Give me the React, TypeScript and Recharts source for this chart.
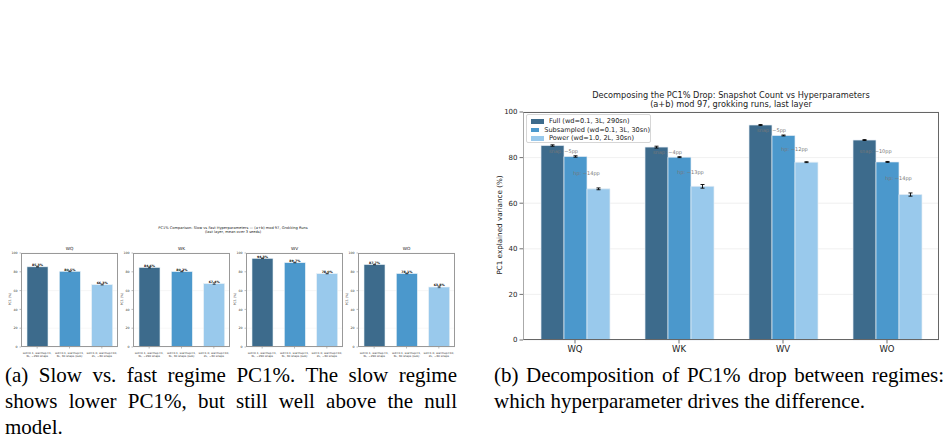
import React from 'react';
import {
  BarChart,
  Bar,
  XAxis,
  YAxis,
  CartesianGrid,
  ErrorBar,
  LabelList,
  ReferenceDot
} from 'recharts';

// weight matrices of the last layer
const components = ['WQ', 'WK', 'WV', 'WO'];

// PC1 explained variance (%) per regime, mean over 3 seeds
const fullPc1 = [85.3, 84.6, 94.3, 87.7];
const fullErr = [0.3, 0.4, 0.2, 0.2];
const subPc1 = [80.5, 80.2, 89.7, 78.1];
const subErr = [0.3, 0.2, 0.2, 0.2];
const powerPc1 = [66.3, 67.4, 78.0, 63.8];
const powerErr = [0.4, 0.8, 0.2, 0.7];

const seriesNames = [
  'Full (wd=0.1, 3L, 290sn)',
  'Subsampled (wd=0.1, 3L, 30sn)',
  'Power (wd=1.0, 2L, 30sn)'
];
const regimeLabels = [
  ['wd=0.1, warmup=1,', '3L, ~290 snaps'],
  ['wd=0.1, warmup=1,', '3L, 30 snaps (sub)'],
  ['wd=1.0, warmup=10,', '2L, ~30 snaps']
];
const yTicks = [0, 20, 40, 60, 80, 100];

const colors = ['#3d6b8c', '#4b98cc', '#99c9ec'];
const FONT = '"DejaVu Sans", sans-serif';

const seriesValues = [fullPc1, subPc1, powerPc1];
const seriesErrs = [fullErr, subErr, powerErr];

const groupedData = components.map((c, i) => ({
  name: c,
  full: fullPc1[i],
  fullErr: fullErr[i],
  sub: subPc1[i],
  subErr: subErr[i],
  power: powerPc1[i],
  powerErr: powerErr[i]
}));

// ---------- panel (a): one small chart per component ----------
const SMALL_LEFTS = [21, 133, 246, 358];

const RegimeTick = (props: any) => {
  const { x, y, payload } = props;
  const lines = regimeLabels[Number(payload.value)];
  return (
    <text x={x} y={y + 3} textAnchor="middle" fontSize={2.8} fill="#333" fontFamily={FONT}>
      <tspan x={x} dy={0}>{lines[0]}</tspan>
      <tspan x={x} dy={3.3}>{lines[1]}</tspan>
    </text>
  );
};

const SmallPanel = ({ idx }: { idx: number }) => {
  const data = [0, 1, 2].map((k) => ({
    name: String(k),
    value: seriesValues[k][idx],
    err: seriesErrs[k][idx]
  }));
  const left = SMALL_LEFTS[idx];
  return (
    <div style={{ position: 'absolute', left: left - 17, top: 240, width: 117, height: 120 }}>
      <BarChart width={117} height={120} data={data} margin={{ top: 13, right: 3, bottom: 3, left: 5 }}>
        <CartesianGrid horizontal vertical={false} stroke="#efefef" strokeWidth={0.5} />
        <XAxis
          dataKey="name"
          tick={<RegimeTick />}
          tickLine={{ stroke: '#555', strokeWidth: 0.4 }}
          tickSize={1.5}
          axisLine={false}
          height={10}
          interval={0}
        />
        <YAxis
          domain={[0, 100]}
          ticks={yTicks}
          width={12}
          tick={{ fontSize: 3.2, fill: '#333', fontFamily: FONT }}
          tickLine={{ stroke: '#555', strokeWidth: 0.4 }}
          tickSize={1.5}
          axisLine={false}
        />
        <Bar dataKey="value" barSize={21} isAnimationActive={false}
          shape={(p: any) => (
            <rect x={p.x} y={p.y} width={p.width} height={p.height} fill={colors[p.index]} stroke="#e8f0f6" strokeWidth={0.6} />
          )}
        >
          <ErrorBar dataKey="err" width={1.5} stroke="#000" strokeWidth={0.5} direction="y" />
          <LabelList
            dataKey="value"
            position="top"
            offset={0.8}
            formatter={(v: any) => `${Number(v).toFixed(1)}%`}
            style={{ fontSize: 3.2, fontWeight: 'bold', fill: '#000', fontFamily: FONT }}
          />
        </Bar>
      </BarChart>
      <div style={{ position: 'absolute', left: 17, top: 13, width: 97, height: 94, border: '0.6px solid #999', boxSizing: 'border-box', pointerEvents: 'none' }} />
      <div style={{ position: 'absolute', left: 17, top: 5.5, width: 97, textAlign: 'center', fontSize: 4.3, fontFamily: FONT, color: '#222', lineHeight: '5px' }}>
        {components[idx]}
      </div>
      <div style={{ position: 'absolute', left: -9, top: 57, width: 30, textAlign: 'center', fontSize: 3.2, fontFamily: FONT, color: '#333', transform: 'rotate(-90deg)', lineHeight: '4px' }}>
        PC1 (%)
      </div>
    </div>
  );
};

// ---------- panel (b): grouped bars ----------
const annotationText = (x: number, y: number, text: string) => (
  <text x={x} y={y} textAnchor="middle" dominantBaseline="central" fontSize={5} fill="#777" fontFamily={FONT}>
    {text}
  </text>
);

const DecompositionChart = () => (
  <div style={{ position: 'absolute', left: 490, top: 85, width: 460, height: 280 }}>
    <BarChart width={460} height={280} data={groupedData} barGap={0} margin={{ top: 27, right: 11, bottom: 10, left: 0 }}>
      <CartesianGrid horizontal vertical={false} stroke="#ececec" strokeWidth={0.8} />
      <XAxis
        dataKey="name"
        tick={{ fontSize: 8.5, fill: '#222', fontFamily: FONT }}
        tickLine={{ stroke: '#333', strokeWidth: 0.7 }}
        tickSize={3.5}
        axisLine={false}
        height={15}
      />
      <YAxis
        domain={[0, 100]}
        ticks={yTicks}
        width={33}
        tick={{ fontSize: 7, fill: '#222', fontFamily: FONT }}
        tickLine={{ stroke: '#333', strokeWidth: 0.7 }}
        tickSize={3.5}
        axisLine={false}
      />
      {(['full', 'sub', 'power'] as const).map((key, k) => (
        <Bar key={key} dataKey={key} barSize={23} fill={colors[k]} stroke="#e6eef5" strokeWidth={0.7} isAnimationActive={false}>
          <ErrorBar dataKey={key + 'Err'} width={2} stroke="#000" strokeWidth={0.9} direction="y" />
        </Bar>
      ))}
      {components.map((c, i) => (
        <ReferenceDot
          key={'snap-' + c}
          x={c}
          y={(fullPc1[i] + subPc1[i]) / 2}
          r={0}
          ifOverflow="visible"
          shape={(p: any) => annotationText(p.cx - 11.5, p.cy, `snap: \u2212${Math.round(fullPc1[i] - subPc1[i])}pp`)}
        />
      ))}
      {components.map((c, i) => (
        <ReferenceDot
          key={'hp-' + c}
          x={c}
          y={(subPc1[i] + powerPc1[i]) / 2}
          r={0}
          ifOverflow="visible"
          shape={(p: any) => annotationText(p.cx + 11.5, p.cy, `hp: \u2212${Math.round(subPc1[i] - powerPc1[i])}pp`)}
        />
      ))}
    </BarChart>
    {/* axes frame */}
    <div style={{ position: 'absolute', left: 33, top: 27, width: 416, height: 228, border: '1px solid #666', borderLeftColor: '#aaa', boxSizing: 'border-box', pointerEvents: 'none' }} />
    {/* legend */}
    <div style={{ position: 'absolute', left: 36, top: 29, width: 125, height: 29, border: '0.8px solid #d6d6d6', borderRadius: 2, background: 'rgba(255,255,255,0.85)', boxSizing: 'border-box', padding: '2px 0 0 4px', fontFamily: FONT, fontSize: 6.6, color: '#222' }}>
      {seriesNames.map((n, k) => (
        <div key={n} style={{ display: 'flex', alignItems: 'center', height: 8.5, whiteSpace: 'nowrap' }}>
          <span style={{ display: 'inline-block', width: 13, height: 4.5, background: colors[k], marginRight: 5 }} />
          {n}
        </div>
      ))}
    </div>
    {/* title */}
    <div style={{ position: 'absolute', left: 33, top: 6, width: 416, textAlign: 'center', fontFamily: FONT, fontSize: 8.2, lineHeight: '9px', color: '#222' }}>
      <div>Decomposing the PC1% Drop: Snapshot Count vs Hyperparameters</div>
      <div>(a+b) mod 97, grokking runs, last layer</div>
    </div>
    {/* y label */}
    <div style={{ position: 'absolute', left: -55, top: 136, width: 130, textAlign: 'center', fontFamily: FONT, fontSize: 7.2, color: '#222', transform: 'rotate(-90deg)', lineHeight: '8px' }}>
      PC1 explained variance (%)
    </div>
  </div>
);

// ---------- captions ----------
const Caption = ({ left, width, lines }: { left: number; width: number; lines: [string, boolean][] }) => (
  <div style={{ position: 'absolute', left, top: 362, width, fontFamily: '"Liberation Serif", serif', fontSize: 21, lineHeight: '26px', color: '#000' }}>
    {lines.map(([t, j], i) => (
      <div key={i} style={{ textAlign: j ? 'justify' : 'left', textAlignLast: j ? 'justify' : 'left', whiteSpace: 'nowrap' } as React.CSSProperties}>
        {t}
      </div>
    ))}
  </div>
);

const App: React.FC = () => (
  <div style={{ position: 'absolute', left: 0, top: 0, width: 950, height: 440, background: '#fff', overflow: 'hidden' }}>
    <div style={{ position: 'absolute', left: 33, top: 226, width: 400, textAlign: 'center', fontFamily: FONT, fontSize: 3.6, lineHeight: '4.2px', color: '#222' }}>
      <div>PC1% Comparison: Slow vs Fast Hyperparameters — (a+b) mod 97, Grokking Runs</div>
      <div>(last layer, mean over 3 seeds)</div>
    </div>
    {components.map((c, i) => (
      <SmallPanel key={c} idx={i} />
    ))}
    <DecompositionChart />
    <Caption
      left={5}
      width={452}
      lines={[
        ['(a) Slow vs. fast regime PC1%.  The slow regime', true],
        ['shows lower PC1%, but still well above the null', true],
        ['model.', false]
      ]}
    />
    <Caption
      left={494}
      width={450}
      lines={[
        ['(b) Decomposition of PC1% drop between regimes:', true],
        ['which hyperparameter drives the difference.', false]
      ]}
    />
  </div>
);

export default App;
